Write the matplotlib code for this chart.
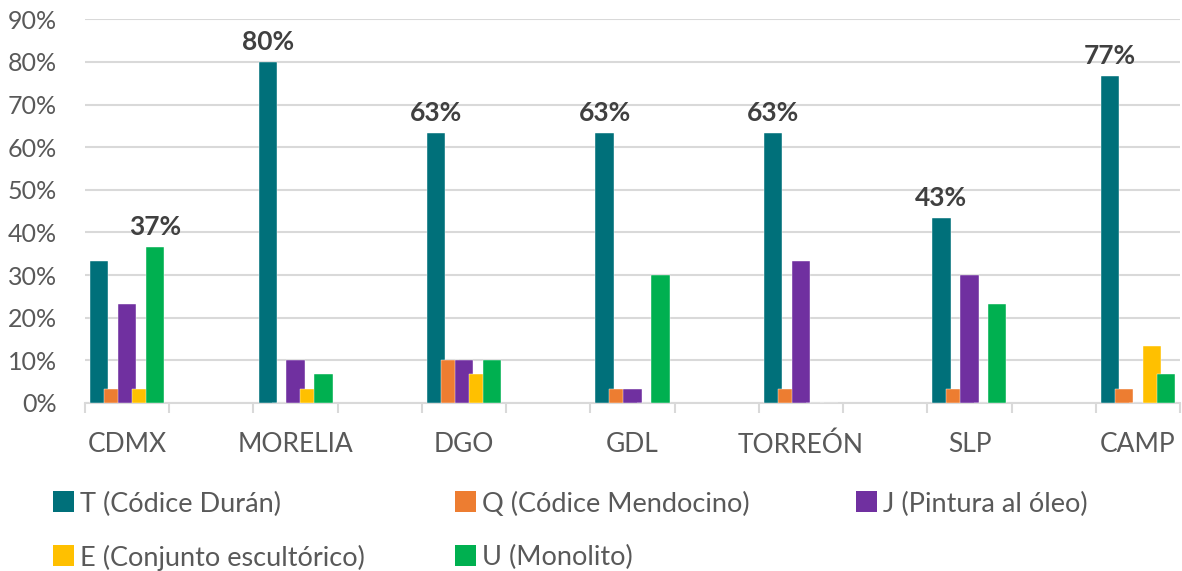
import numpy as np
import matplotlib
matplotlib.use("Agg")
import matplotlib.pyplot as plt
from matplotlib.patches import Rectangle

plt.rcParams['font.family'] = ['Lato', 'DejaVu Sans']

categories = ["CDMX", "MORELIA", "DGO", "GDL", "TORREÓN", "SLP", "CAMP"]
series_names = ["T (Códice Durán)", "Q (Códice Mendocino)", "J (Pintura al óleo)",
                "E (Conjunto escultórico)", "U (Monolito)"]
colors = ["#00707A", "#ED7D31", "#7030A0", "#FFC000", "#00B050"]

t_vals = [33.3, 80.0, 63.3, 63.3, 63.3, 43.3, 76.7]
q_vals = [3.3, 0.0, 10.0, 3.3, 3.3, 3.3, 3.3]
j_vals = [23.3, 10.0, 10.0, 3.3, 33.3, 30.0, 0.0]
e_vals = [3.3, 3.3, 6.7, 0.0, 0.0, 0.0, 13.3]
u_vals = [36.7, 6.7, 10.0, 30.0, 0.0, 23.3, 6.7]
all_vals = [t_vals, q_vals, j_vals, e_vals, u_vals]

# labelled bar per category: (series index, text)
labels = [(4, "37%"), (0, "80%"), (0, "63%"), (0, "63%"), (0, "63%"), (0, "43%"), (0, "77%")]

W, H = 1182, 571
fig = plt.figure(figsize=(W / 100, H / 100), dpi=100)
ax = fig.add_axes([85 / W, (H - 403) / H, 1095 / W, 383.7 / H])

x = np.arange(len(categories))
step = 0.083
width = 0.108
for i, (vals, c) in enumerate(zip(all_vals, colors)):
    ax.bar(x + (i - 2) * step, vals, width=width, color=c, zorder=3,
           edgecolor="white", linewidth=0.3)

for k, (si, txt) in enumerate(labels):
    v = all_vals[si][k]
    ax.text(x[k] + (si - 2) * step, v + 2.8, txt, ha="center", va="baseline",
            fontsize=19, fontweight="bold", color="#404040")

ax.set_ylim(0, 90)
ax.set_xlim(-0.25, len(categories) - 0.75)
ax.set_yticks(np.arange(0, 91, 10))
ax.set_yticklabels([f"{v}%" for v in range(0, 91, 10)], fontsize=18, color="#595959")
ax.set_xticks(x)
ax.set_xticklabels(categories, fontsize=19, color="#595959")
ax.set_xticks(np.arange(-0.25, len(categories) - 0.5, 0.5), minor=True)
ax.tick_params(axis="x", which="major", length=0, pad=21)
ax.tick_params(axis="x", which="minor", length=7.5, color="#d9d9d9", width=1.5)
ax.tick_params(axis="y", length=0, pad=20)
ax.grid(axis="y", color="#d9d9d9", linewidth=1.5, zorder=0)
for s in ["top", "right", "left"]:
    ax.spines[s].set_visible(False)
ax.spines["bottom"].set_color("#d9d9d9")
ax.spines["bottom"].set_linewidth(1.5)

# legend, laid out by hand like the original (3 columns, row-major)
col_x = [53, 455, 856]
row_y = [501.5, 555]
sq = 21
for n, (name, c) in enumerate(zip(series_names, colors)):
    r, cidx = divmod(n, 3)
    x0, yc = col_x[cidx], row_y[r]
    fig.add_artist(Rectangle((x0 / W, (H - yc - sq / 2) / H), sq / W, sq / H,
                             transform=fig.transFigure, facecolor=c,
                             edgecolor="none"))
    fig.text((x0 + sq + 6) / W, (H - yc) / H, name, ha="left", va="center_baseline",
             fontsize=19.5, color="#595959")

fig.savefig("out.png", dpi=100)
